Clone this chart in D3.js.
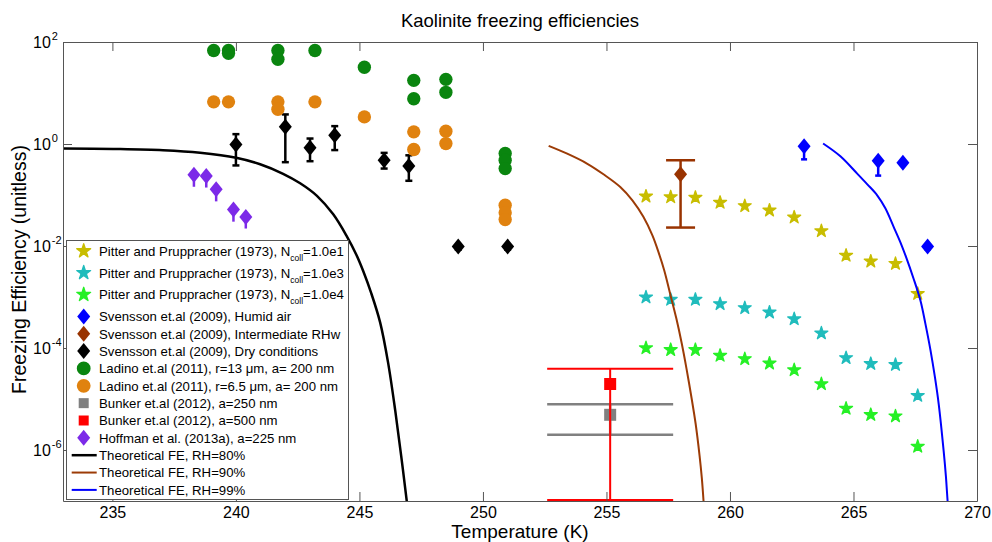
<!DOCTYPE html>
<html>
<head>
<meta charset="utf-8">
<script src="https://cdn.jsdelivr.net/npm/d3@7"></script>
<style>
  body { margin: 0; background: #fff; }
  svg { display: block; font-family: 'Liberation Sans', Arial, sans-serif; }
</style>
</head>
<body>
<div id="chart"></div>
<script>

// MARK: - Data

const xTicks = [235, 240, 245, 250, 255, 260, 265, 270];
const yTicks = [1e-6, 1e-4, 1e-2, 1, 1e2];

// Pitter and Pruppracher (1973)
const pitterTemps = [256.6, 257.6, 258.6, 259.6, 260.6, 261.6, 262.6, 263.7, 264.7, 265.7, 266.7, 267.6];
const pitterN1e1 = [0.094, 0.091, 0.089, 0.071, 0.061, 0.050, 0.0365, 0.0197, 0.0065, 0.0050, 0.0045, 0.00116];
const pitterN1e3 = [9.9e-4, 8.9e-4, 8.9e-4, 7.3e-4, 6.1e-4, 5.0e-4, 3.7e-4, 1.95e-4, 6.4e-5, 4.9e-5, 4.7e-5, 1.16e-5];
const pitterN1e4 = [1.0e-4, 9.2e-5, 9.2e-5, 7.1e-5, 6.1e-5, 5.0e-5, 3.7e-5, 1.97e-5, 6.5e-6, 4.9e-6, 4.6e-6, 1.17e-6];

// Svensson et.al (2009)
const humidTemps = [263.0, 266.0, 267.0, 268.0];
const humidValues = [0.9, 0.47, 0.43, 0.0098];
const humidLower = [0.5, 0.24, 0.40, 0.0085];
const interTemps = [258.0];
const interValues = [0.255];
const interLower = [0.023];
const interUpper = [0.48];
const dryTemps = [240.0, 242.0, 243.0, 244.0, 246.0, 247.0, 249.0, 251.0];
const dryValues = [0.98, 2.17, 0.84, 1.49, 0.48, 0.37, 0.0098, 0.0098];
const dryLower = [0.38, 0.44, 0.46, 0.76, 0.33, 0.19, 0.0085, 0.0085];
const dryUpper = [1.56, 3.8, 1.28, 2.24, 0.67, 0.6, 0.0098, 0.0098];

// Ladino et.al (2011)
const ladino13Temps = [239.1, 239.7, 239.7, 241.7, 241.7, 243.2, 245.2, 247.2, 247.2, 248.5, 248.5, 250.9, 250.9, 250.9];
const ladino13Values = [68, 68, 60, 68, 46, 68, 32, 17.7, 7.7, 18.5, 10.3, 0.65, 0.48, 0.33];
const ladino65Temps = [239.1, 239.7, 241.7, 241.7, 243.2, 245.2, 247.2, 247.2, 248.5, 248.5, 250.9, 250.9, 250.9];
const ladino65Values = [6.7, 6.7, 6.7, 4.8, 6.7, 3.4, 1.73, 0.78, 1.78, 1.02, 0.063, 0.045, 0.033];

// Bunker et.al (2012)
const bunker250Temps = [255.15];
const bunker250Values = [4.9e-6];
const bunker250Lower = [2.0e-6];
const bunker250Upper = [7.9e-6];
const bunker500Temps = [255.15];
const bunker500Values = [1.97e-5];
const bunker500Lower = [1.05e-7];
const bunker500Upper = [3.9e-5];

// Hoffman et al. (2013a)
const hoffmanTemps = [238.3, 238.8, 239.2, 239.9, 240.4];
const hoffmanValues = [0.25, 0.236, 0.129, 0.052, 0.037];
const hoffmanLower = [0.145, 0.14, 0.075, 0.03, 0.022];

// Theoretical FE curves
const rh80Temps = [233.0, 235.03, 237.05, 238.55, 240.01, 240.98, 241.91, 242.6, 243.28, 243.94, 244.49, 244.87, 245.16, 245.47, 245.84, 246.16, 246.45, 246.69, 246.89, 246.93];
const rh80Values = [0.817, 0.798, 0.755, 0.674, 0.538, 0.401, 0.261, 0.170, 0.0964, 0.0418, 0.0155, 0.00684, 0.00317, 0.00122, 3.15e-4, 5.17e-5, 5.9e-6, 7.7e-7, 1.26e-7, 8.7e-8];
const rh90Temps = [252.66, 253.41, 254.21, 254.91, 255.56, 256.05, 256.5, 256.86, 257.11, 257.34, 257.59, 257.83, 258.04, 258.24, 258.45, 258.61, 258.77, 258.86, 258.93];
const rh90Values = [0.918, 0.645, 0.414, 0.249, 0.1436, 0.0787, 0.037, 0.0161, 0.00748, 0.00332, 1.1e-3, 3.78e-4, 1.28e-4, 3.94e-5, 1.01e-5, 3.27e-6, 7.7e-7, 2.84e-7, 1e-7];
const rh99Temps = [263.77, 264.47, 265.15, 265.56, 265.96, 266.29, 266.63, 266.9, 267.13, 267.43, 267.71, 267.91, 268.12, 268.3, 268.45, 268.65, 268.74, 268.81, 268.83];
const rh99Values = [1.023, 0.575, 0.263, 0.162, 0.0986, 0.0548, 0.0235, 0.0118, 0.00605, 0.00231, 8.53e-4, 3.01e-4, 8.9e-5, 2.62e-5, 7.97e-6, 9.6e-7, 3.11e-7, 1.0e-7, 7.9e-8];

// MARK: - Series

const pitterLabel = 'Pitter and Pruppracher (1973), N';

const markerSeries = [
  {label: [pitterLabel, 'coll', '=1.0e1'], temps: pitterTemps, values: pitterN1e1, shape: 'star', color: '#c8bd00'},
  {label: [pitterLabel, 'coll', '=1.0e3'], temps: pitterTemps, values: pitterN1e3, shape: 'star', color: '#20bcbc'},
  {label: [pitterLabel, 'coll', '=1.0e4'], temps: pitterTemps, values: pitterN1e4, shape: 'star', color: '#26f026'},
  {label: ['Svensson et.al (2009), Humid air'], temps: humidTemps, values: humidValues, lower: humidLower, upper: humidValues, shape: 'diamond', color: '#0000ff', cap: 3, bar: 2.5},
  {label: ['Svensson et.al (2009), Intermediate RHw'], temps: interTemps, values: interValues, lower: interLower, upper: interUpper, shape: 'diamond', color: '#993300', cap: 14.5, bar: 2.5},
  {label: ['Svensson et.al (2009), Dry conditions'], temps: dryTemps, values: dryValues, lower: dryLower, upper: dryUpper, shape: 'diamond', color: '#000000', cap: 3.5, bar: 2.5},
  {label: ['Ladino et.al (2011), r=13 μm, a= 200 nm'], temps: ladino13Temps, values: ladino13Values, shape: 'circle', color: '#0a850f'},
  {label: ['Ladino et.al (2011), r=6.5 μm, a= 200 nm'], temps: ladino65Temps, values: ladino65Values, shape: 'circle', color: '#e0820f'},
  {label: ['Bunker et.al (2012), a=250 nm'], temps: bunker250Temps, values: bunker250Values, lower: bunker250Lower, upper: bunker250Upper, shape: 'square', color: '#808080', cap: 63, bar: 2.5},
  {label: ['Bunker et.al (2012), a=500 nm'], temps: bunker500Temps, values: bunker500Values, lower: bunker500Lower, upper: bunker500Upper, shape: 'square', color: '#ff0000', cap: 63, bar: 2},
  {label: ['Hoffman et al. (2013a), a=225 nm'], temps: hoffmanTemps, values: hoffmanValues, lower: hoffmanLower, upper: hoffmanValues, shape: 'diamond', color: '#7c2ae8', cap: 0, bar: 2.5}
];

const curveSeries = [
  {label: ['Theoretical FE, RH=80%'], temps: rh80Temps, values: rh80Values, color: '#000000', width: 2.5},
  {label: ['Theoretical FE, RH=90%'], temps: rh90Temps, values: rh90Values, color: '#9c3b06', width: 2},
  {label: ['Theoretical FE, RH=99%'], temps: rh99Temps, values: rh99Values, color: '#0000ff', width: 2}
];

/**
 * Returns the path of a marker of the given shape.
 * @param {string} shape One of star, diamond, circle, square.
 * @param {boolean} small Whether the marker is for the legend.
 */
function markerPath(shape, small) {
  switch (shape) {
    case 'star':
      return d3.symbol(d3.symbolStar, small ? 60 : 52)();
    case 'circle':
      return d3.symbol(d3.symbolCircle, small ? 150 : 140)();
    case 'square': {
      let s = small ? 5 : 6;
      return `M${-s},${-s}h${2 * s}v${2 * s}h${-2 * s}Z`;
    }
    default:
      return `M0,-8L6.5,0L0,8L-6.5,0Z`;
  }
}

/**
 * Draws the kaolinite freezing efficiency chart.
 * @class FreezingChart
 */
class FreezingChart {

  constructor(selector) {
    this.width = 992;
    this.height = 542;
    this.plot = {left: 63, top: 42, right: 977, bottom: 501};
    this.x = d3.scaleLinear().domain([233, 270]).range([this.plot.left, this.plot.right]);
    this.y = d3.scaleLog().domain([1e-7, 1e2]).range([this.plot.bottom, this.plot.top]);
    this.svg = d3.select(selector)
      .append('svg')
      .attr('width', this.width)
      .attr('height', this.height);
  }

  draw() {
    this.drawClip();
    this.drawMarkers();
    this.drawCurves();
    this.drawAxes();
    this.drawLegend();
    this.drawLabels();
    return this;
  }

  drawClip() {
    let p = this.plot;
    this.svg.append('clipPath')
      .attr('id', 'plot-clip')
      .append('rect')
      .attr('x', p.left)
      .attr('y', p.top)
      .attr('width', p.right - p.left)
      .attr('height', p.bottom - p.top);
    this.layer = this.svg.append('g').attr('clip-path', 'url(#plot-clip)');
  }

  // MARK: - Data

  drawMarkers() {
    let x = this.x, y = this.y;
    markerSeries.forEach(series => {
      let g = this.layer.append('g');
      let points = series.temps.map((t, i) => ({t: t, v: series.values[i], i: i}));

      if (series.lower) {
        let bars = g.selectAll('.bar').data(points).enter().append('g')
          .attr('stroke', series.color)
          .attr('stroke-width', series.bar)
          .attr('fill', 'none');
        bars.append('line')
          .attr('x1', d => x(d.t)).attr('x2', d => x(d.t))
          .attr('y1', d => y(series.lower[d.i])).attr('y2', d => y(series.upper[d.i]));
        if (series.cap > 0) {
          ['lower', 'upper'].forEach(key => {
            bars.filter(d => series[key][d.i] !== series.values[d.i])
              .append('line')
              .attr('x1', d => x(d.t) - series.cap).attr('x2', d => x(d.t) + series.cap)
              .attr('y1', d => y(series[key][d.i])).attr('y2', d => y(series[key][d.i]));
          });
        }
      }

      g.selectAll('.marker').data(points).enter().append('path')
        .attr('d', markerPath(series.shape, false))
        .attr('transform', d => `translate(${x(d.t)},${y(d.v)})`)
        .attr('fill', series.color)
        .attr('stroke', series.shape === 'star' ? series.color : 'none')
        .attr('stroke-width', 1.3)
        .attr('stroke-linejoin', 'round');
    });
  }

  drawCurves() {
    curveSeries.forEach(series => {
      let line = d3.line()
        .x(t => this.x(t))
        .y((t, i) => this.y(series.values[i]))
        .curve(d3.curveCatmullRom.alpha(0.5));
      this.layer.append('path')
        .attr('d', line(series.temps))
        .attr('fill', 'none')
        .attr('stroke', series.color)
        .attr('stroke-width', series.width);
    });
  }

  // MARK: - Axes

  drawAxes() {
    let p = this.plot;
    let axes = [
      [d3.axisBottom(this.x).tickValues(xTicks).tickFormat(d3.format('d')), `translate(0,${p.bottom})`],
      [d3.axisTop(this.x).tickValues(xTicks).tickFormat(''), `translate(0,${p.top})`],
      [d3.axisLeft(this.y).tickValues(yTicks).tickFormat(''), `translate(${p.left},0)`],
      [d3.axisRight(this.y).tickValues(yTicks).tickFormat(''), `translate(${p.right},0)`]
    ];
    axes.forEach(([axis, transform]) => {
      let g = this.svg.append('g')
        .attr('transform', transform)
        .call(axis.tickSizeInner(-9).tickSizeOuter(0).tickPadding(6));
      g.select('.domain').attr('stroke', '#555');
      g.selectAll('.tick line').attr('stroke', '#555');
      g.selectAll('.tick text')
        .attr('font-size', 16)
        .attr('font-family', null)
        .attr('fill', '#000');
    });

    // powers of ten on the left
    let labels = this.svg.append('g')
      .attr('fill', '#000')
      .selectAll('text')
      .data(yTicks)
      .enter()
      .append('text')
      .attr('x', 33)
      .attr('y', d => this.y(d) + 6);
    labels.append('tspan').attr('font-size', 16).text('10');
    labels.append('tspan')
      .attr('font-size', 11)
      .attr('dx', 1)
      .attr('dy', -8)
      .text(d => String(Math.round(Math.log10(d))));
  }

  // MARK: - Legend

  drawLegend() {
    let entries = markerSeries.concat(curveSeries);
    let g = this.svg.append('g');
    g.append('rect')
      .attr('x', 66.5)
      .attr('y', 240.5)
      .attr('width', 282)
      .attr('height', 259)
      .attr('fill', '#fff')
      .attr('stroke', '#555');

    entries.forEach((entry, i) => {
      let rowY = 251 + 21.8 * Math.min(i, 3) + 17.35 * Math.max(i - 3, 0);
      if (entry.shape) {
        g.append('path')
          .attr('d', markerPath(entry.shape, true))
          .attr('transform', `translate(83.7,${rowY})`)
          .attr('fill', entry.color)
          .attr('stroke', entry.shape === 'star' ? entry.color : 'none')
          .attr('stroke-width', 1.3)
          .attr('stroke-linejoin', 'round');
      } else {
        g.append('line')
          .attr('x1', 71.7).attr('x2', 96.7)
          .attr('y1', rowY).attr('y2', rowY)
          .attr('stroke', entry.color)
          .attr('stroke-width', entry.width);
      }
      let text = g.append('text')
        .attr('x', 99)
        .attr('y', rowY + 4.8)
        .attr('font-size', 13.2)
        .attr('fill', '#000');
      text.append('tspan').text(entry.label[0]);
      if (entry.label.length > 1) {
        text.append('tspan').attr('font-size', 8.5).attr('dy', 5).text(entry.label[1]);
        text.append('tspan').attr('dy', -5).text(entry.label[2]);
      }
    });
  }

  drawLabels() {
    let p = this.plot;
    let cx = (p.left + p.right) / 2;
    this.svg.append('text')
      .attr('x', cx)
      .attr('y', 27)
      .attr('text-anchor', 'middle')
      .attr('font-size', 18.5)
      .text('Kaolinite freezing efficiencies');
    this.svg.append('text')
      .attr('x', cx)
      .attr('y', 538)
      .attr('text-anchor', 'middle')
      .attr('font-size', 19)
      .text('Temperature (K)');
    this.svg.append('text')
      .attr('transform', `translate(25.5,${(p.top + p.bottom) / 2 - 2}) rotate(-90)`)
      .attr('text-anchor', 'middle')
      .attr('font-size', 19.5)
      .text('Freezing Efficiency (unitless)');
  }
}

new FreezingChart('#chart').draw();

</script>
</body>
</html>
